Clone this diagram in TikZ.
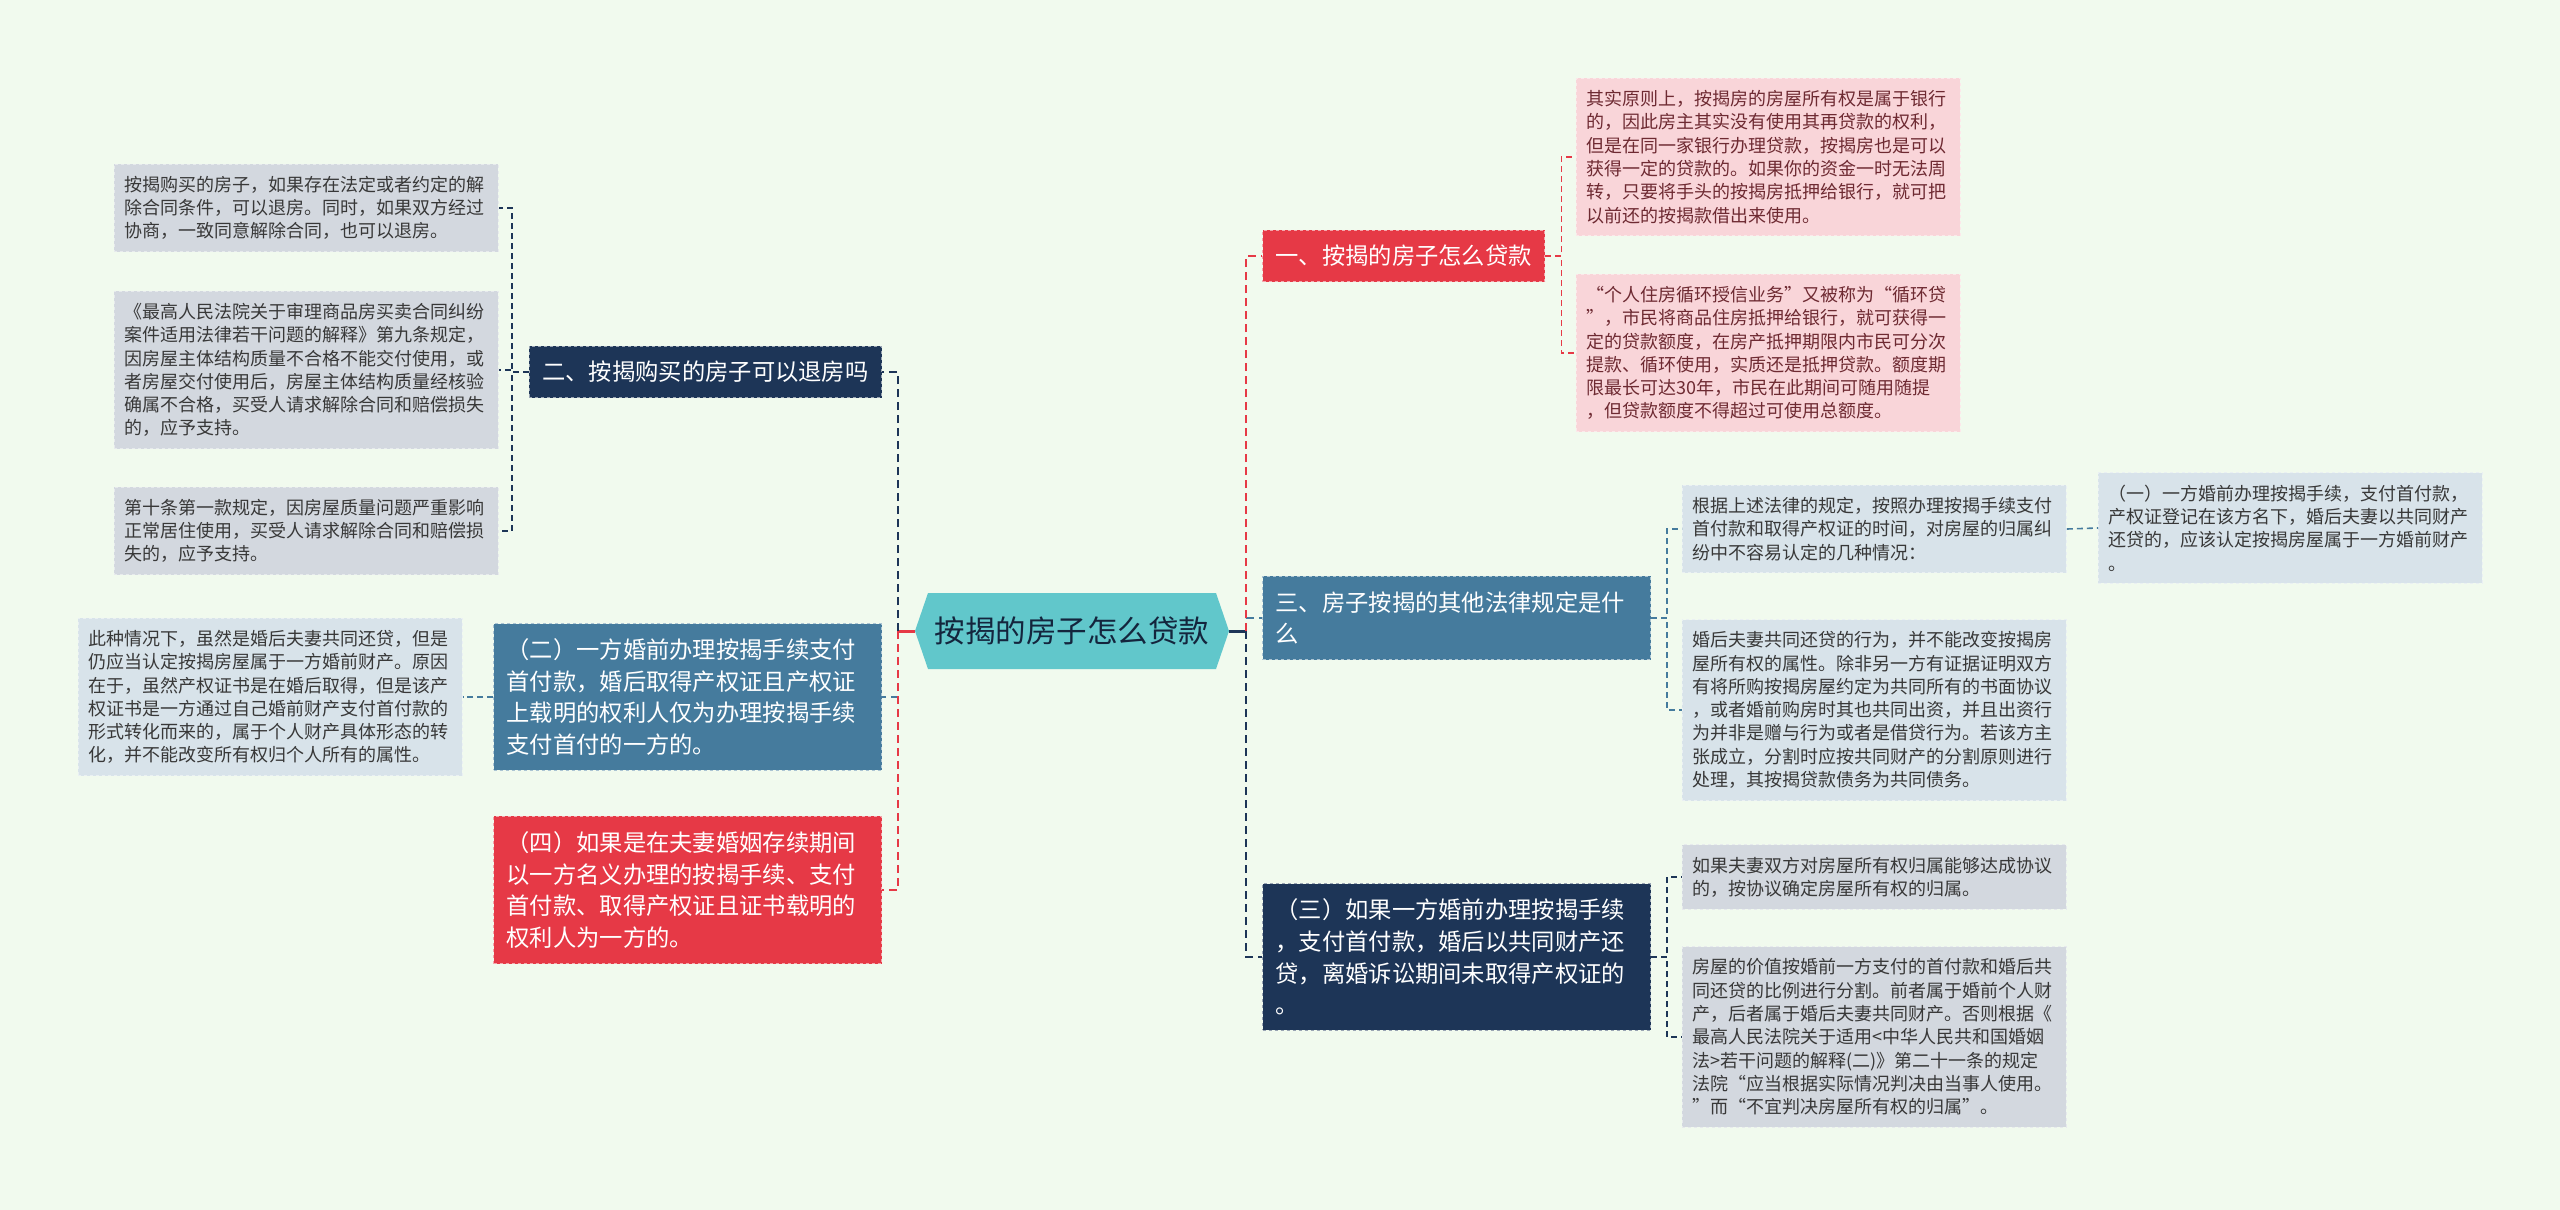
\documentclass[tikz,border=0pt]{standalone}
\usepackage{fontspec}
\setmainfont{Noto Sans CJK SC}
\definecolor{bgmint}{HTML}{F1FAEE}
\definecolor{rootteal}{HTML}{61C7CB}
\definecolor{topicred}{HTML}{E63946}
\definecolor{topicnavy}{HTML}{1D3557}
\definecolor{topicsteel}{HTML}{457B9D}
\definecolor{leafpink}{HTML}{F9D5D9}
\definecolor{leafgray}{HTML}{D3D8DF}
\definecolor{leafblue}{HTML}{D8E3EA}
\definecolor{pinktext}{HTML}{6E2A32}

\begin{document}
\begin{tikzpicture}[x=1pt,y=1pt,yscale=-1,
  topic/.style={fill=#1, draw=white!55!#1, dashed, line width=1, text=white,
    align=left, inner xsep=13, inner ysep=15, font=\fontsize{23.3}{31.7}\selectfont},
  topicwide/.style={text width=362},
  leaf/.style={fill=#1, draw=white!45!#1, dashed, line width=0.8, text=black!78,
    text width=364, align=left, inner xsep=10, inner ysep=12,
    font=\fontsize{18}{23.3}\selectfont},
  link/.style={draw=#1, line width=1.6, dash pattern=on 6 off 4},
  trunk/.style={draw=#1, line width=2.4, dash pattern=on 8 off 5},
]
  \fill[bgmint] (0,0) rectangle (2560,1210);

  % centre
  \fill[rootteal] (915,631) -- (928,593) -- (1216,593) -- (1229,631) -- (1216,669) -- (928,669) -- cycle;
  \node[font=\fontsize{30.5}{36}\selectfont, text=topicnavy!70!black, minimum width=314, minimum height=76, inner sep=0] (root) at (1072,631) {按揭的房子怎么贷款};
  \coordinate (lj) at (898,631);
  \coordinate (rj) at (1246,631);

  % left topics
  \node[topic=topicnavy, anchor=east] (two) at (882,372) {二、按揭购买的房子可以退房吗};
  \node[topic=topicsteel, topicwide, anchor=east] (twob) at (882,697) {（二）一方婚前办理按揭手续支付\\首付款，婚后取得产权证且产权证\\上载明的权利人仅为办理按揭手续\\支付首付的一方的。};
  \node[topic=topicred, topicwide, anchor=east] (fourb) at (882,890) {（四）如果是在夫妻婚姻存续期间\\以一方名义办理的按揭手续、支付\\首付款、取得产权证且证书载明的\\权利人为一方的。};

  % right topics
  \node[topic=topicred, anchor=west] (one) at (1262,256) {一、按揭的房子怎么贷款};
  \node[topic=topicsteel, topicwide, anchor=west] (three) at (1262,618) {三、房子按揭的其他法律规定是什\\么};
  \node[topic=topicnavy, topicwide, anchor=west] (threeb) at (1262,957) {（三）如果一方婚前办理按揭手续\\，支付首付款，婚后以共同财产还\\贷，离婚诉讼期间未取得产权证的\\。};

  % leaves of two
  \node[leaf=leafgray, anchor=west] (a1) at (114,208) {按揭购买的房子，如果存在法定或者约定的解\\除合同条件，可以退房。同时，如果双方经过\\协商，一致同意解除合同，也可以退房。};
  \node[leaf=leafgray, anchor=west] (a2) at (114,370) {《最高人民法院关于审理商品房买卖合同纠纷\\案件适用法律若干问题的解释》第九条规定，\\因房屋主体结构质量不合格不能交付使用，或\\者房屋交付使用后，房屋主体结构质量经核验\\确属不合格，买受人请求解除合同和赔偿损失\\的，应予支持。};
  \node[leaf=leafgray, anchor=west] (a3) at (114,531) {第十条第一款规定，因房屋质量问题严重影响\\正常居住使用，买受人请求解除合同和赔偿损\\失的，应予支持。};
  \node[leaf=leafblue, anchor=west] (b1) at (78,697) {此种情况下，虽然是婚后夫妻共同还贷，但是\\仍应当认定按揭房屋属于一方婚前财产。原因\\在于，虽然产权证书是在婚后取得，但是该产\\权证书是一方通过自己婚前财产支付首付款的\\形式转化而来的，属于个人财产具体形态的转\\化，并不能改变所有权归个人所有的属性。};

  % leaves of one
  \node[leaf=leafpink, text=pinktext, anchor=west] (c1) at (1576,157) {其实原则上，按揭房的房屋所有权是属于银行\\的，因此房主其实没有使用其再贷款的权利，\\但是在同一家银行办理贷款，按揭房也是可以\\获得一定的贷款的。如果你的资金一时无法周\\转，只要将手头的按揭房抵押给银行，就可把\\以前还的按揭款借出来使用。};
  \node[leaf=leafpink, text=pinktext, anchor=west] (c2) at (1576,353) {“个人住房循环授信业务”又被称为“循环贷\\”，市民将商品住房抵押给银行，就可获得一\\定的贷款额度，在房产抵押期限内市民可分次\\提款、循环使用，实质还是抵押贷款。额度期\\限最长可达30年，市民在此期间可随用随提\\，但贷款额度不得超过可使用总额度。};

  % leaves of three
  \node[leaf=leafblue, anchor=west] (d1) at (1682,529) {根据上述法律的规定，按照办理按揭手续支付\\首付款和取得产权证的时间，对房屋的归属纠\\纷中不容易认定的几种情况：};
  \node[leaf=leafblue, anchor=west] (d2) at (1682,710) {婚后夫妻共同还贷的行为，并不能改变按揭房\\屋所有权的属性。除非另一方有证据证明双方\\有将所购按揭房屋约定为共同所有的书面协议\\，或者婚前购房时其也共同出资，并且出资行\\为并非是赠与行为或者是借贷行为。若该方主\\张成立，分割时应按共同财产的分割原则进行\\处理，其按揭贷款债务为共同债务。};
  \node[leaf=leafblue, anchor=west] (e1) at (2098,528) {（一）一方婚前办理按揭手续，支付首付款，\\产权证登记在该方名下，婚后夫妻以共同财产\\还贷的，应该认定按揭房屋属于一方婚前财产\\。};

  % leaves of threeb
  \node[leaf=leafgray, anchor=west] (f1) at (1682,877) {如果夫妻双方对房屋所有权归属能够达成协议\\的，按协议确定房屋所有权的归属。};
  \node[leaf=leafgray, anchor=west] (f2) at (1682,1037) {房屋的价值按婚前一方支付的首付款和婚后共\\同还贷的比例进行分割。前者属于婚前个人财\\产，后者属于婚后夫妻共同财产。否则根据《\\最高人民法院关于适用<中华人民共和国婚姻\\法>若干问题的解释(二)》第二十一条的规定\\法院“应当根据实际情况判决由当事人使用。\\”而“不宜判决房屋所有权的归属”。};

  % trunks
  \draw[line width=3, topicred] (root.west) -- (lj);
  \draw[line width=3, topicnavy] (root.east) -- (rj);
  \draw[trunk=topicnavy] (lj) |- (two.east);
  \draw[trunk=topicsteel] (lj) |- (twob.east);
  \draw[trunk=topicred] (lj) |- (fourb.east);
  \draw[trunk=topicsteel] (rj) |- (three.west);
  \draw[trunk=topicnavy] (rj) |- (threeb.west);
  \draw[trunk=topicred] (rj) |- (one.west);

  % links to leaves
  \draw[link=topicnavy] (two.west) -- ++(-17,0) |- (a1.east);
  \draw[link=topicnavy] (two.west) -- ++(-17,0) |- (a2.east);
  \draw[link=topicnavy] (two.west) -- ++(-17,0) |- (a3.east);
  \draw[link=topicsteel] (twob.west) -- (b1.east);
  \draw[link=topicred] (one.east) -- ++(16,0) |- (c1.west);
  \draw[link=topicred] (one.east) -- ++(16,0) |- (c2.west);
  \draw[link=topicsteel] (three.east) -- ++(16,0) |- (d1.west);
  \draw[link=topicsteel] (three.east) -- ++(16,0) |- (d2.west);
  \draw[link=topicsteel] (d1.east) -- (e1.west);
  \draw[link=topicnavy] (threeb.east) -- ++(16,0) |- (f1.west);
  \draw[link=topicnavy] (threeb.east) -- ++(16,0) |- (f2.west);
\end{tikzpicture}
\end{document}
